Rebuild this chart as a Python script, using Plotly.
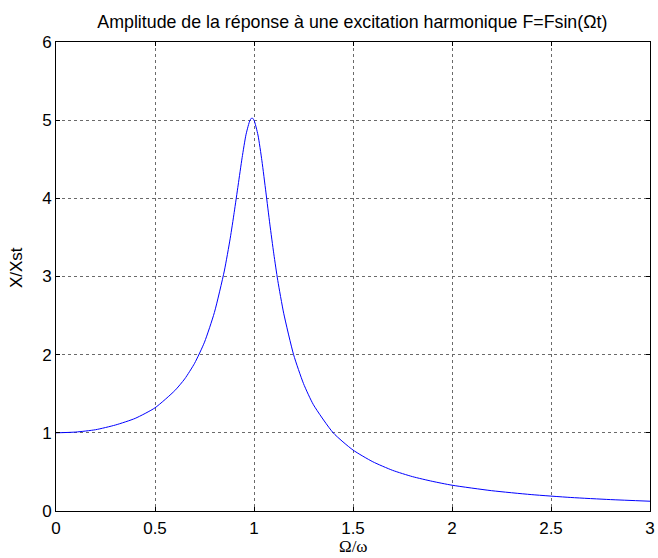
import plotly.graph_objects as go

# Frequency ratio Omega/omega
ratio = [0.0, 0.1, 0.2, 0.3, 0.4, 0.5, 0.6, 0.65, 0.7, 0.75, 0.8, 0.85, 0.88, 0.9,
         0.92, 0.94, 0.96, 0.98, 0.99, 1.0, 1.02, 1.04, 1.06, 1.08, 1.1, 1.12, 1.15,
         1.2, 1.25, 1.3, 1.4, 1.5, 1.6, 1.7, 1.8, 1.9, 2.0, 2.2, 2.4, 2.6, 2.8, 3.0]
# Amplitude X/Xst
amplitude = [1.0, 1.01, 1.04, 1.10, 1.185, 1.32, 1.54, 1.69, 1.89, 2.16, 2.54, 3.07, 3.49, 3.82,
             4.17, 4.52, 4.82, 5.0, 5.03, 5.0, 4.81, 4.48, 4.08, 3.67, 3.29, 2.95, 2.53,
             2.0, 1.63, 1.36, 1.0, 0.78, 0.63, 0.52, 0.44, 0.38, 0.33, 0.26, 0.21, 0.173, 0.146, 0.125]

x_ticks = [0, 0.5, 1, 1.5, 2, 2.5, 3]
y_ticks = [0, 1, 2, 3, 4, 5, 6]

fig = go.Figure()
fig.add_trace(go.Scatter(x=ratio, y=amplitude, mode="lines",
                         line=dict(color="#0000ff", width=1, shape="spline", smoothing=0.6),
                         showlegend=False, hoverinfo="skip"))

axis_common = dict(showline=True, linecolor="black", linewidth=1, mirror="ticks",
                   ticks="inside", ticklen=4, tickcolor="black", tickwidth=1,
                   showgrid=True, gridcolor="#6a6a6a", griddash="dot", gridwidth=1,
                   zeroline=False, automargin=False,
                   tickfont=dict(family="Liberation Sans, Arial", size=17, color="black"))

fig.update_xaxes(range=[0, 3], tickvals=x_ticks, ticktext=[str(v) for v in x_ticks],
                 ticklabelstandoff=2, **axis_common)
fig.update_yaxes(range=[0, 6], tickvals=y_ticks, ticktext=[str(v) for v in y_ticks],
                 **axis_common)

fig.add_annotation(text="Ω/ω", xref="paper", yref="paper", x=0.5, y=-0.0765,
                   xanchor="center", yanchor="middle", showarrow=False,
                   font=dict(family="Liberation Serif, Times New Roman", size=17, color="black"))
fig.add_annotation(text="X/Xst", xref="paper", yref="paper", x=-0.0673, y=0.518,
                   xanchor="center", yanchor="middle", textangle=-90, showarrow=False,
                   font=dict(family="Liberation Sans, Arial", size=17, color="black"))

fig.update_layout(
    width=658, height=558,
    margin=dict(l=56, r=8, t=42, b=47, autoexpand=False),
    paper_bgcolor="white", plot_bgcolor="white",
    title=dict(text="Amplitude de la réponse à une excitation harmonique F=Fsin(Ωt)",
               x=0.5355, xanchor="center", y=0.9615, yanchor="middle",
               font=dict(family="Liberation Sans, Arial", size=17.8, color="black")),
)

fig.write_html("out.html", config={"displayModeBar": False, "staticPlot": True},
               post_script="document.body.style.margin='0';document.body.style.overflow='hidden';")
